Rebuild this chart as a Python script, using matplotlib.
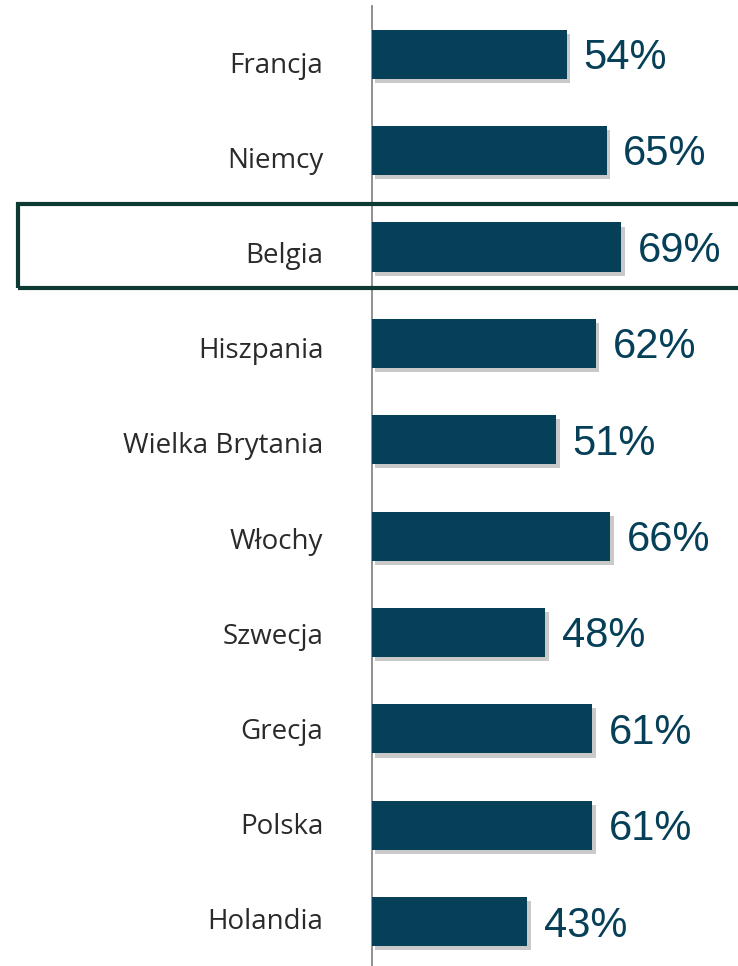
import matplotlib.pyplot as plt
import matplotlib.patheffects as pe
from matplotlib.patches import Rectangle

# data
countries = ['Francja', 'Niemcy', 'Belgia', 'Hiszpania', 'Wielka Brytania',
             'Włochy', 'Szwecja', 'Grecja', 'Polska', 'Holandia']
values = [54, 65, 69, 62, 51, 66, 48, 61, 61, 43]
highlight = 'Belgia'

bar_color = '#053f58'

fig = plt.figure(figsize=(7.38, 9.66), dpi=100)
W, H = 738, 966
rect_ax = [372 / W, 0, 361 / W, (966 - 6) / H]
ax = fig.add_axes(rect_ax)

pos = list(range(len(countries)))
bars = ax.barh(pos, values, height=0.51, color=bar_color, zorder=3)
for b in bars:
    b.set_path_effects([pe.SimplePatchShadow(offset=(2.5, -3), shadow_rgbFace='#888888', alpha=0.45),
                        pe.Normal()])

for p, v in zip(pos, values):
    ax.text(v + 4.6, p + 0.04, f'{v}%', va='center', ha='left', fontsize=30,
            family='Liberation Sans', color=bar_color)

ax.set_xlim(0, 100)
ax.set_ylim(9.46, -0.5)
ax.set_yticks([])
ax.set_xticks([])
for s in ['top', 'right', 'bottom']:
    ax.spines[s].set_visible(False)
ax.spines['left'].set_color('#888888')
ax.spines['left'].set_linewidth(1.3)

# category labels sit in their own column, slightly tighter than the bars
lab = fig.add_axes(rect_ax, frameon=False, zorder=0)
lab.set_ylim(9.50, -0.594)
lab.set_xticks([])
lab.set_yticks(pos)
lab.set_yticklabels(countries, fontsize=20, family='Open Sans', color='#2a2a2a')
for lbl in lab.get_yticklabels():
    lbl.set_verticalalignment('center_baseline')
lab.tick_params(axis='y', length=0, pad=35)

# frame around the highlighted row
rect = Rectangle((18 / W, 1 - 288 / H), 740 / W, 84 / H, transform=fig.transFigure,
                 fill=False, edgecolor='#0d3b33', linewidth=3, clip_on=False)
fig.patches.append(rect)

fig.savefig('out.png', dpi=100)
